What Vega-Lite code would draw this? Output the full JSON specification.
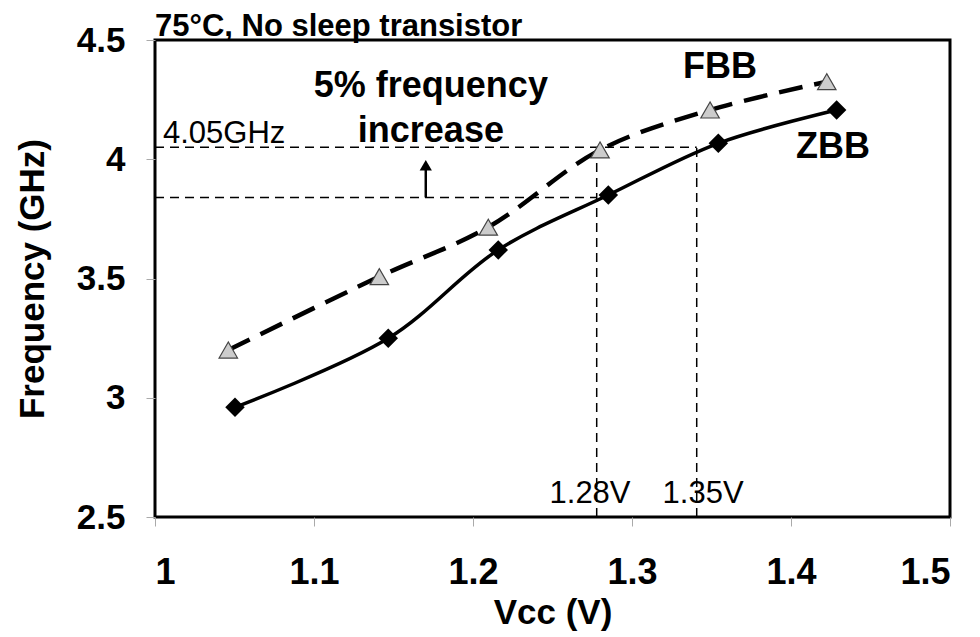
{
  "$schema": "https://vega.github.io/schema/vega-lite/v6.json",
  "autosize": "none",
  "width": 795,
  "height": 477,
  "padding": {"left": 155, "top": 40, "right": 30, "bottom": 120},
  "background": "white",
  "view": {"stroke": "black", "strokeWidth": 3},
  "title": {"text": "75°C, No sleep transistor", "anchor": "start", "frame": "group", "fontSize": 31, "font": "Liberation Sans", "fontWeight": "bold", "offset": 4, "dy": 24, "color": "black"},
  "datasets": {
    "curves": [
      {"series": "ZBB", "vcc": 1.0503, "freq": 2.960},
      {"series": "ZBB", "vcc": 1.1467, "freq": 3.249},
      {"series": "ZBB", "vcc": 1.2159, "freq": 3.620},
      {"series": "ZBB", "vcc": 1.2851, "freq": 3.850},
      {"series": "ZBB", "vcc": 1.3543, "freq": 4.067},
      {"series": "ZBB", "vcc": 1.4287, "freq": 4.2065},
      {"series": "FBB", "vcc": 1.0461, "freq": 3.200},
      {"series": "FBB", "vcc": 1.1411, "freq": 3.508},
      {"series": "FBB", "vcc": 1.2096, "freq": 3.715},
      {"series": "FBB", "vcc": 1.2799, "freq": 4.039},
      {"series": "FBB", "vcc": 1.3491, "freq": 4.2065},
      {"series": "FBB", "vcc": 1.4225, "freq": 4.325}
    ],
    "hrules": [
      {"vcc": 1.0, "vcc2": 1.3407, "freq": 4.05},
      {"vcc": 1.0, "vcc2": 1.2778, "freq": 3.84}
    ],
    "vrules": [
      {"vcc": 1.2778, "freq": 2.5, "freq2": 4.04},
      {"vcc": 1.3407, "freq": 2.5, "freq2": 4.05}
    ],
    "arrow": [
      {"vcc": 1.1703, "freq": 3.84, "freq2": 3.955}
    ],
    "arrowhead": [
      {"vcc": 1.1703, "freq": 3.975}
    ],
    "boldLabels": [
      {"label": "5% frequency", "vcc": 1.1735, "freq": 4.261},
      {"label": "increase", "vcc": 1.1735, "freq": 4.072},
      {"label": "FBB", "vcc": 1.3553, "freq": 4.339},
      {"label": "ZBB", "vcc": 1.4264, "freq": 4.004}
    ],
    "plainLabels": [
      {"label": "1.28V", "vcc": 1.2736, "freq": 2.559},
      {"label": "1.35V", "vcc": 1.3447, "freq": 2.559}
    ],
    "ghzLabel": [
      {"label": "4.05GHz", "vcc": 1.005, "freq": 4.068}
    ]
  },
  "encoding": {
    "x": {"field": "vcc", "type": "quantitative",
      "scale": {"domain": [1, 1.5], "nice": false, "zero": false},
      "axis": {"title": "Vcc (V)", "values": [1, 1.1, 1.2, 1.3, 1.4, 1.5], "format": "~g",
        "grid": false, "domain": false, "ticks": true, "tickColor": "#aaaaaa", "tickSize": 9, "tickWidth": 1,
        "labelFont": "Liberation Sans", "labelFontWeight": "bold", "labelFontSize": 36, "labelColor": "black", "labelPadding": 29,
        "titleFont": "Liberation Sans", "titleFontWeight": "bold", "titleFontSize": 35, "titleColor": "black", "titlePadding": 5}},
    "y": {"field": "freq", "type": "quantitative",
      "scale": {"domain": [2.5, 4.5], "nice": false, "zero": false},
      "axis": {"title": "Frequency (GHz)", "values": [2.5, 3, 3.5, 4, 4.5], "format": "~g",
        "grid": false, "domain": false, "ticks": true, "tickColor": "#aaaaaa", "tickSize": 9, "tickWidth": 1,
        "labelFont": "Liberation Sans", "labelFontWeight": "bold", "labelFontSize": 35, "labelColor": "black", "labelPadding": 21,
        "titleFont": "Liberation Sans", "titleFontWeight": "bold", "titleFontSize": 35, "titleColor": "black", "titlePadding": 26}}
  },
  "layer": [
    {
      "data": {"name": "hrules"},
      "mark": {"type": "rule", "color": "black", "strokeWidth": 1.5, "strokeDash": [9, 6]},
      "encoding": {"x2": {"field": "vcc2"}}
    },
    {
      "data": {"name": "vrules"},
      "mark": {"type": "rule", "color": "black", "strokeWidth": 1.5, "strokeDash": [9, 6]},
      "encoding": {"y2": {"field": "freq2"}}
    },
    {
      "data": {"name": "arrow"},
      "mark": {"type": "rule", "color": "black", "strokeWidth": 2.5},
      "encoding": {"y2": {"field": "freq2"}}
    },
    {
      "data": {"name": "arrowhead"},
      "mark": {"type": "point", "shape": "triangle-up", "filled": true, "color": "black", "size": 150, "opacity": 1}
    },
    {
      "data": {"name": "curves"},
      "transform": [{"filter": "datum.series === 'ZBB'"}],
      "mark": {"type": "line", "interpolate": "catmull-rom", "color": "black", "strokeWidth": 3.5}
    },
    {
      "data": {"name": "curves"},
      "transform": [{"filter": "datum.series === 'FBB'"}],
      "mark": {"type": "line", "interpolate": "catmull-rom", "color": "black", "strokeWidth": 4.5, "strokeDash": [24, 12]}
    },
    {
      "data": {"name": "curves"},
      "transform": [{"filter": "datum.series === 'ZBB'"}],
      "mark": {"type": "point", "shape": "diamond", "filled": true, "color": "black", "size": 380, "opacity": 1}
    },
    {
      "data": {"name": "curves"},
      "transform": [{"filter": "datum.series === 'FBB'"}],
      "mark": {"type": "point", "shape": "triangle-up", "filled": true, "fill": "#cccccc", "stroke": "#444444", "strokeWidth": 1.2, "size": 340, "opacity": 1}
    },
    {
      "data": {"name": "boldLabels"},
      "mark": {"type": "text", "font": "Liberation Sans", "fontWeight": "bold", "fontSize": 36, "align": "center", "baseline": "alphabetic", "color": "black"},
      "encoding": {"text": {"field": "label"}}
    },
    {
      "data": {"name": "plainLabels"},
      "mark": {"type": "text", "font": "Liberation Sans", "fontSize": 31, "align": "center", "baseline": "alphabetic", "color": "black"},
      "encoding": {"text": {"field": "label"}}
    },
    {
      "data": {"name": "ghzLabel"},
      "mark": {"type": "text", "font": "Liberation Sans", "fontSize": 31, "align": "left", "baseline": "alphabetic", "color": "black"},
      "encoding": {"text": {"field": "label"}}
    }
  ]
}
